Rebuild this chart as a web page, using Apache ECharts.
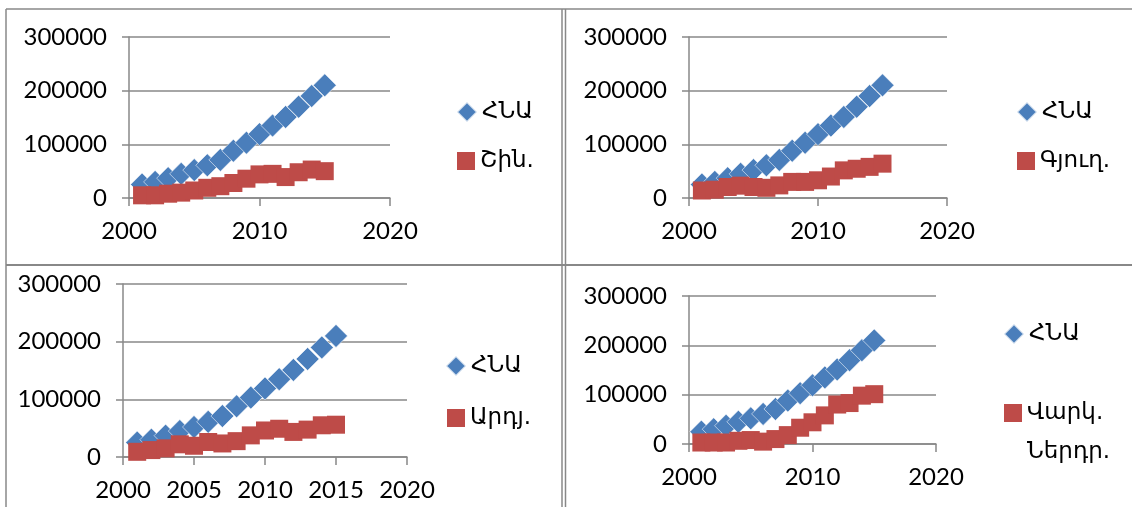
<!DOCTYPE html>
<html>
<head>
<meta charset="utf-8">
<script src="https://cdn.jsdelivr.net/npm/echarts@6/dist/echarts.min.js"></script>
<style>
html,body{margin:0;padding:0;background:#fff;}
#c{width:1132px;height:507px;}
</style>
</head>
<body>
<div id="c"></div>
<script>
// ---- data ----
const years = [2001, 2002, 2003, 2004, 2005, 2006, 2007, 2008, 2009, 2010, 2011, 2012, 2013, 2014, 2015];
const gdp = [25000, 30000, 37000, 45000, 52000, 61000, 71000, 88000, 103000, 119000, 135000, 151000, 170000, 190000, 210000];
const construction = [5000, 5000, 8000, 10000, 14000, 19000, 22000, 28000, 36000, 44000, 45000, 39000, 48000, 53000, 50000];
const agriculture = [14000, 15500, 20500, 23000, 20500, 19000, 23500, 30000, 30000, 33000, 40000, 51500, 54500, 58000, 64000];
const industry = [9000, 12000, 15000, 22000, 19500, 26000, 23500, 27500, 37500, 46000, 49000, 43500, 47500, 55000, 56000];
const creditInvest = [3000, 3000, 3000, 6500, 8000, 4800, 10000, 18000, 33000, 44000, 58000, 80000, 83000, 98000, 101000];
const gdpName = 'ՀՆԱ';
const panelNames = ['Շին.', 'Գյուղ.', 'Արդյ.', 'Վարկ. Ներդր.'];
const panelData = [construction, agriculture, industry, creditInvest];
const xIntervals = [10, 10, 5, 10];
const yTicks = [0, 100000, 200000, 300000];

const BLUE = '#4A7EBB', RED = '#BE4B48', GRID = '#888888';
const NUMFONT = 'Lato, "DejaVu Sans", sans-serif';
const ARMFONT = '"DejaVu Sans", sans-serif';

// layout of the four plot areas
const grids = [
  {left: 129, top: 37, width: 261, height: 161},
  {left: 689, top: 37, width: 258, height: 161},
  {left: 123, top: 284, width: 284, height: 173},
  {left: 689, top: 296, width: 247, height: 148}
];
// legend icon centres
const legPos = [
  [[466, 112], [466, 161]],
  [[1026, 112], [1026, 161]],
  [[455, 366], [456, 418]],
  [[1013, 334], [1013, 413]]
];

function pts(vals) { return years.map((y, i) => [y, vals[i]]); }

const option = {
  animation: false,
  backgroundColor: '#fff',
  grid: grids.map(g => Object.assign({containLabel: false}, g)),
  xAxis: grids.map((g, i) => ({
    type: 'value', gridIndex: i, min: 2000, max: 2020, interval: xIntervals[i],
    axisLine: {show: true, lineStyle: {color: GRID, width: 1.5}},
    axisTick: {show: true, length: 8, lineStyle: {color: GRID, width: 1.5}},
    splitLine: {show: false},
    axisLabel: {color: '#000', fontFamily: NUMFONT, fontSize: 24, margin: 21, formatter: v => String(v)}
  })),
  yAxis: grids.map((g, i) => ({
    type: 'value', gridIndex: i, min: yTicks[0], max: yTicks[yTicks.length - 1], interval: yTicks[1] - yTicks[0],
    axisLine: {show: true, lineStyle: {color: GRID, width: 1.5}},
    axisTick: {show: true, length: 7, lineStyle: {color: GRID, width: 1.5}},
    splitLine: {show: true, lineStyle: {color: GRID, width: 1.5}},
    axisLabel: {color: '#000', fontFamily: NUMFONT, fontSize: 24, margin: 22, formatter: v => String(v)}
  })),
  legend: [],
  series: [],
  graphic: [
    {type: 'line', shape: {x1: 6, y1: 9, x2: 1132, y2: 9}, style: {stroke: GRID, lineWidth: 1.5}},
    {type: 'line', shape: {x1: 6, y1: 265, x2: 1132, y2: 265}, style: {stroke: GRID, lineWidth: 2}},
    {type: 'line', shape: {x1: 6, y1: 9, x2: 6, y2: 507}, style: {stroke: GRID, lineWidth: 1.5}},
    {type: 'line', shape: {x1: 562, y1: 9, x2: 562, y2: 507}, style: {stroke: GRID, lineWidth: 1.5}},
    {type: 'line', shape: {x1: 565.5, y1: 9, x2: 565.5, y2: 507}, style: {stroke: GRID, lineWidth: 1.5}}
  ]
};

for (let i = 0; i < 4; i++) {
  option.series.push({
    type: 'scatter', name: gdpName, xAxisIndex: i, yAxisIndex: i,
    symbol: 'diamond', symbolSize: 23,
    itemStyle: {color: BLUE, borderColor: 'rgba(255,255,255,0.7)', borderWidth: 0.8, opacity: 1},
    data: pts(gdp)
  });
  option.series.push({
    type: 'scatter', name: panelNames[i], xAxisIndex: i, yAxisIndex: i,
    symbol: 'rect', symbolSize: 18,
    itemStyle: {color: RED, opacity: 1},
    data: pts(panelData[i])
  });
  const p1 = legPos[i][0];
  option.legend.push({
    data: [{name: gdpName, icon: 'diamond'}],
    left: p1[0] - 10, top: p1[1] - 14, padding: 0, itemWidth: 20, itemHeight: 20,
    selectedMode: false,
    textStyle: {color: '#000', fontFamily: ARMFONT, fontSize: 23, lineHeight: 28}
  });
  const p2 = legPos[i][1];
  const twoLine = panelNames[i].indexOf(' ') > 0;
  if (twoLine) {
    // blank first line so that the first word sits level with the icon
    option.legend.push({
      data: [{name: panelNames[i], icon: 'rect'}],
      formatter: n => ' \n' + n.replace(' ', '\n'),
      left: p2[0] - 9, top: p2[1] - 58.5, padding: 0, itemWidth: 18, itemHeight: 18,
      selectedMode: false,
      textStyle: {color: '#000', fontFamily: ARMFONT, fontSize: 23, lineHeight: 39}
    });
  } else {
    option.legend.push({
      data: [{name: panelNames[i], icon: 'rect'}],
      left: p2[0] - 9, top: p2[1] - 14, padding: 0, itemWidth: 18, itemHeight: 18,
      selectedMode: false,
      textStyle: {color: '#000', fontFamily: ARMFONT, fontSize: 23, lineHeight: 28}
    });
  }
}

const chart = echarts.init(document.getElementById('c'), null, {renderer: 'canvas'});
chart.setOption(option);
</script>
</body>
</html>
